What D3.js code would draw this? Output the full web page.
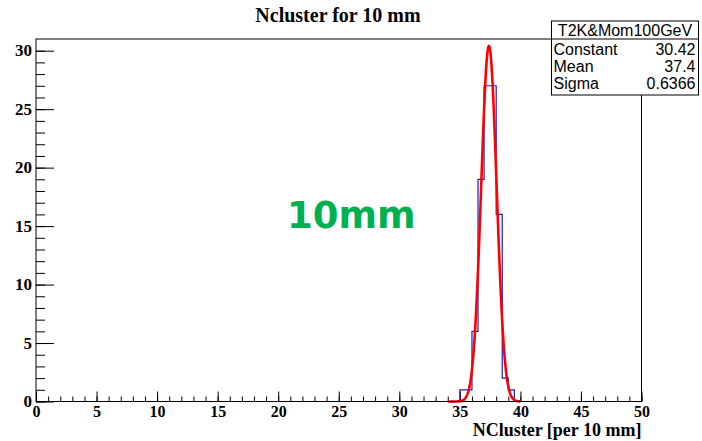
<!DOCTYPE html>
<html>
<head>
<meta charset="utf-8">
<script src="https://cdn.jsdelivr.net/npm/d3@7"></script>
<style>
  body { margin: 0; background: #fff; }
  svg { display: block; }
  .axis text { font-family: "Liberation Serif", serif; font-weight: bold; font-size: 17px; fill: #000; }
  .axis path { display: none; }
  .axis line { stroke: #000; stroke-width: 1; }
</style>
</head>
<body>
<div id="chart"></div>
<script>
// histogram contents, bin width 0.5 starting at 35
const binStart = 35, binWidth = 0.5;
const counts = [1, 1, 6, 19, 27, 27, 16, 2, 1];

// gaussian fit shown in the stats box
const fitConstant = 30.42, fitMean = 37.4, fitSigma = 0.6366;
const fitRange = [34, 40];
const statTitle = "T2K&Mom100GeV";
const statRows = [["Constant", "30.42"], ["Mean", "37.4"], ["Sigma", "0.6366"]];

const W = 702, H = 441;
const frame = { left: 36, right: 641.5, top: 39, bottom: 401.5 };

const svg = d3.select("#chart").append("svg")
    .attr("width", W)
    .attr("height", H);

const x = d3.scaleLinear().domain([0, 50]).range([frame.left, frame.right]);
const y = d3.scaleLinear().domain([0, 31]).range([frame.bottom, frame.top]);

// title
svg.append("text")
    .attr("x", 338).attr("y", 22)
    .attr("text-anchor", "middle")
    .style("font-family", "Liberation Serif, serif")
    .style("font-weight", "bold")
    .style("font-size", "20px")
    .text("Ncluster for 10 mm");

// axes: major + minor ticks pointing inward
const gx = svg.append("g").attr("class", "axis")
    .attr("transform", `translate(0,${frame.bottom})`);
gx.call(d3.axisBottom(x).tickValues(d3.range(0, 51, 1)).tickSize(-5).tickFormat(""));
const gxMaj = svg.append("g").attr("class", "axis")
    .attr("transform", `translate(0,${frame.bottom})`);
gxMaj.call(d3.axisBottom(x).tickValues(d3.range(0, 51, 5)).tickSize(-10).tickPadding(0).tickFormat(d3.format("d")));
gxMaj.selectAll("text").attr("dy", null).attr("y", 15.5).style("font-size", "16px");

const gy = svg.append("g").attr("class", "axis")
    .attr("transform", `translate(${frame.left},0)`);
gy.call(d3.axisLeft(y).tickValues(d3.range(0, 31, 1)).tickSize(-9).tickFormat(""));
const gyMaj = svg.append("g").attr("class", "axis")
    .attr("transform", `translate(${frame.left},0)`);
gyMaj.call(d3.axisLeft(y).tickValues(d3.range(0, 31, 5)).tickSize(-18).tickPadding(4).tickFormat(d3.format("d")));
gyMaj.selectAll("text").attr("dy", "0.3em");

// histogram outline
const histPts = [[binStart, 0]];
counts.forEach((c, i) => {
    const x0 = binStart + i * binWidth;
    histPts.push([x0, c], [x0 + binWidth, c]);
});
histPts.push([binStart + counts.length * binWidth, 0]);

svg.append("path")
    .attr("d", d3.line().x(d => x(d[0])).y(d => y(d[1]))(histPts))
    .attr("fill", "none")
    .attr("stroke", "#1a1acc")
    .attr("stroke-width", 1.2);

// fit curve
const gaus = v => fitConstant * Math.exp(-0.5 * ((v - fitMean) / fitSigma) ** 2);
const fitPts = d3.range(fitRange[0], fitRange[1] + 0.001, 0.05).map(v => [v, gaus(v)]);
svg.append("path")
    .attr("d", d3.line().x(d => x(d[0])).y(d => y(d[1]))(fitPts))
    .attr("fill", "none")
    .attr("stroke", "#ff0000")
    .attr("stroke-width", 2.6)
    .attr("stroke-linejoin", "round");

// frame
svg.append("rect")
    .attr("x", frame.left).attr("y", frame.top)
    .attr("width", frame.right - frame.left)
    .attr("height", frame.bottom - frame.top)
    .attr("fill", "none")
    .attr("stroke", "#000")
    .attr("stroke-width", 1);

// x axis title
svg.append("text")
    .attr("x", frame.right).attr("y", 436)
    .attr("text-anchor", "end")
    .style("font-family", "Liberation Serif, serif")
    .style("font-weight", "bold")
    .style("font-size", "18px")
    .text("NCluster [per 10 mm]");

// big green label
svg.append("text")
    .attr("x", 287).attr("y", 228)
    .style("font-family", "DejaVu Sans, sans-serif")
    .style("font-weight", "bold")
    .style("font-size", "37px")
    .attr("fill", "#00b050")
    .text("10mm");

// stats box
const box = { x: 551.5, y: 21, w: 147, h: 74 };
const sb = svg.append("g");
sb.append("rect")
    .attr("x", box.x).attr("y", box.y)
    .attr("width", box.w).attr("height", box.h)
    .attr("fill", "#fff")
    .attr("stroke", "#000");
sb.append("line")
    .attr("x1", box.x).attr("x2", box.x + box.w)
    .attr("y1", 39).attr("y2", 39)
    .attr("stroke", "#000");
sb.append("text")
    .attr("x", box.x + box.w / 2).attr("y", 35.5)
    .attr("text-anchor", "middle")
    .style("font-family", "Liberation Sans, sans-serif")
    .style("font-size", "16px")
    .text(statTitle);
statRows.forEach((r, i) => {
    const by = 54.5 + i * 17;
    sb.append("text")
        .attr("x", box.x + 2).attr("y", by)
        .style("font-family", "Liberation Sans, sans-serif")
        .style("font-size", "16px")
        .text(r[0]);
    sb.append("text")
        .attr("x", box.x + box.w - 3).attr("y", by)
        .attr("text-anchor", "end")
        .style("font-family", "Liberation Sans, sans-serif")
        .style("font-size", "16px")
        .text(r[1]);
});
</script>
</body>
</html>
